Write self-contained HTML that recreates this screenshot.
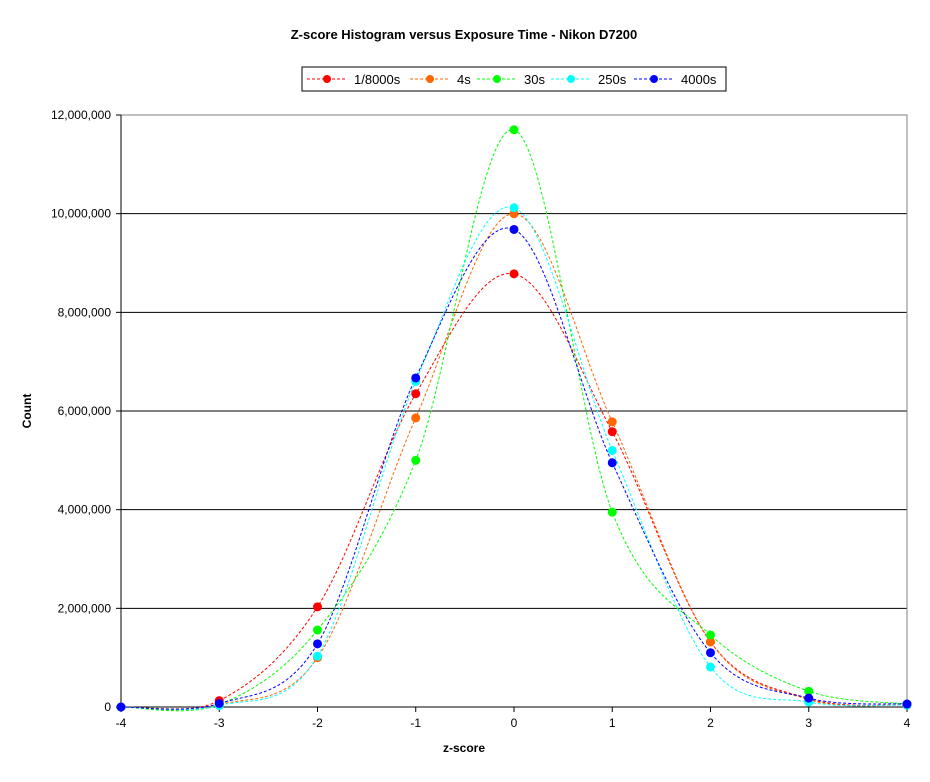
<!DOCTYPE html>
<html><head><meta charset="utf-8"><style>
body{margin:0;background:#fff;}
svg text{font-family:"Liberation Sans",Arial,sans-serif;}
</style></head><body>
<svg width="930" height="777" viewBox="0 0 930 777">
<rect width="930" height="777" fill="#fff"/>
<text x="464" y="39" text-anchor="middle" font-size="13" font-weight="bold">Z-score Histogram versus Exposure Time - Nikon D7200</text>
<g id="grid"></g>
<rect x="121" y="115" width="786" height="592" fill="none" stroke="#808080"/>
<g id="axes"></g>
<g id="series"></g>
<text x="464" y="752" text-anchor="middle" font-size="12" font-weight="bold">z-score</text>
<text x="31" y="411" text-anchor="middle" font-size="12" font-weight="bold" transform="rotate(-90 31 411)">Count</text>
<rect x="302" y="67" width="424" height="24" fill="#fff" stroke="#000"/>
<g id="legend"></g>
</svg>
<script>
const categories=[-4,-3,-2,-1,0,1,2,3,4];
const seriesNames=["1/8000s","4s","30s","250s","4000s"];
const s8000=[0,0.13,2.03,6.35,8.78,5.58,1.32,0.17,0.04];
const s4=[0,0.05,1.0,5.86,10.0,5.78,1.32,0.15,0.04];
const s30=[0,0.05,1.56,5.0,11.7,3.95,1.46,0.32,0.06];
const s250=[0,0.03,1.03,6.6,10.12,5.2,0.81,0.1,0.04];
const s4000=[0,0.07,1.28,6.67,9.68,4.95,1.1,0.18,0.06];
const yTicks=[0,2,4,6,8,10,12];
const yTickLabels=["0","2,000,000","4,000,000","6,000,000","8,000,000","10,000,000","12,000,000"];
const colors=["#ff0000","#ff6600","#00ff00","#00ffff","#0000ff"];
const allSeries=[s8000,s4,s30,s250,s4000];
const NS="http://www.w3.org/2000/svg";
const X=v=>121+(v+4)*(786/8);
const Y=v=>707-v*(592/12);
function mk(tag,attrs,parent){const e=document.createElementNS(NS,tag);for(const k in attrs)e.setAttribute(k,attrs[k]);parent.appendChild(e);return e;}
const grid=document.getElementById('grid'),axes=document.getElementById('axes'),ser=document.getElementById('series'),leg=document.getElementById('legend');
yTicks.forEach((t,i)=>{
 if(t>0&&t<12){const l=mk('line',{x1:121,x2:907,y1:Y(t),y2:Y(t),stroke:'#000'},grid);
 
 }
 const tk=mk('line',{x1:116,x2:121,y1:Y(t),y2:Y(t),stroke:'#000'},axes);
 
 
 const tx=mk('text',{x:111,y:Y(t)+4,'text-anchor':'end','font-size':12},axes);
 tx.textContent=yTickLabels[i];
 
 
});
const ax=mk('line',{x1:121,x2:907,y1:707,y2:707,stroke:'#000'},axes);


const ay=mk('line',{x1:121,x2:121,y1:115,y2:707,stroke:'#000'},axes);


categories.forEach(c=>{
 const tk=mk('line',{x1:X(c),x2:X(c),y1:707,y2:712,stroke:'#000'},axes);
 
 
 const tx=mk('text',{x:X(c),y:727,'text-anchor':'middle','font-size':12},axes);
 tx.textContent=String(c);
 
 
});
function smooth(pts){let d=`M${pts[0][0]},${pts[0][1]}`;for(let i=0;i<pts.length-1;i++){const p0=pts[i-1]||pts[i],p1=pts[i],p2=pts[i+1],p3=pts[i+2]||p2;
 const c1=[p1[0]+(p2[0]-p0[0])/6,p1[1]+(p2[1]-p0[1])/6],c2=[p2[0]-(p3[0]-p1[0])/6,p2[1]-(p3[1]-p1[1])/6];
 d+=` C${c1[0]},${c1[1]} ${c2[0]},${c2[1]} ${p2[0]},${p2[1]}`;}return d;}
allSeries.forEach((s,si)=>{
 const pts=s.map((v,i)=>[X(categories[i]),Y(v)]);
 const p=mk('path',{d:smooth(pts),fill:'none',stroke:colors[si],'stroke-dasharray':'3,2','stroke-width':1},ser);
 
 
});
allSeries.forEach((s,si)=>{
 s.forEach((v,i)=>{const c=mk('circle',{cx:X(categories[i]),cy:Y(v),r:4.5,fill:colors[si]},ser);
 
 });
});
const legX=[307,410,477,551,634];
seriesNames.forEach((n,i)=>{
 const l=mk('line',{x1:legX[i],x2:legX[i]+39,y1:79,y2:79,stroke:colors[i],'stroke-dasharray':'3,2'},leg);
 
 
 const c=mk('circle',{cx:legX[i]+20,cy:79,r:4,fill:colors[i]},leg);
 
 
 const t=mk('text',{x:legX[i]+47,y:84,'font-size':13},leg);
 t.textContent=n;
 
 
});
</script>
</body></html>
